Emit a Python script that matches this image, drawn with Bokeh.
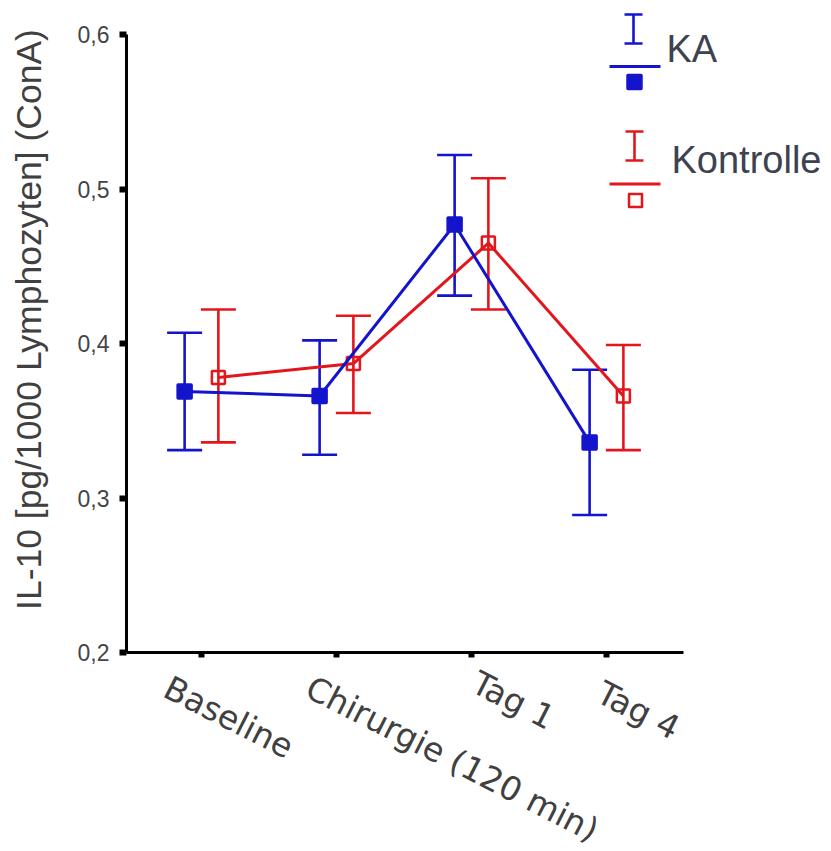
import math
from bokeh.plotting import figure
from bokeh.models import (ColumnDataSource, Whisker, TeeHead, FixedTicker,
                          CustomJSTickFormatter, Range1d, Label)
from bokeh.embed import file_html
from bokeh.resources import INLINE

# ---------------- data ----------------
categories = ["Baseline", "Chirurgie (120 min)", "Tag 1", "Tag 4"]
y_ticks = [0.2, 0.3, 0.4, 0.5, 0.6]

ka_mean = [0.369, 0.366, 0.477, 0.336]
ka_upper = [0.407, 0.402, 0.522, 0.383]
ka_lower = [0.331, 0.328, 0.431, 0.289]

kon_mean = [0.378, 0.387, 0.465, 0.366]
kon_upper = [0.422, 0.418, 0.507, 0.399]
kon_lower = [0.336, 0.355, 0.422, 0.331]

series_names = ["KA", "Kontrolle"]
y_label = "IL-10 [pg/1000 Lymphozyten] (ConA)"

# ---------------- style / layout (page pixels) ----------------
BLUE = "#1414cc"
RED = "#e3161c"
TEXT = "#404040"
LEGEND_TEXT = "#3d4250"
FONT = "Liberation Sans"
CAT_FONT = "DejaVu Sans"

FRAME_W = 829
FRAME_H = 849
AXIS_LEFT_PX = 126        # y axis line
AXIS_RIGHT_PX = 683       # end of x axis line
AXIS_TOP_PX = 34          # y max
AXIS_BOTTOM_PX = 652      # y min / x axis line
FIRST_TICK_PX = 201       # first category
PX_PER_CAT = 135
DODGE = 0.125
Y_MIN, Y_MAX = y_ticks[0], y_ticks[-1]

# category label placement: horizontal nudge (px) from tick, anchor y (px)
X_LABEL_NUDGE = [-35, -28, 3, -7]
X_LABEL_Y = [685, 685, 680, 690]
X_LABEL_ANGLE = -math.radians(27)
Y_LABEL_X, Y_LABEL_CY = 28, 319

px_per_y = (AXIS_BOTTOM_PX - AXIS_TOP_PX) / (Y_MAX - Y_MIN)


def page_x(px):
    return (px - FIRST_TICK_PX) / PX_PER_CAT


def page_y(py):
    return Y_MIN + (AXIS_BOTTOM_PX - py) / px_per_y


p = figure(frame_width=FRAME_W, frame_height=FRAME_H,
           x_range=Range1d(page_x(0), page_x(FRAME_W)),
           y_range=Range1d(page_y(FRAME_H), page_y(0)),
           output_backend="svg", toolbar_location=None,
           min_border_left=0, min_border_bottom=0,
           min_border_top=0, min_border_right=0)
p.xgrid.visible = False
p.ygrid.visible = False
p.outline_line_color = None
p.background_fill_color = "white"
p.border_fill_color = "white"

# x axis (category names drawn as rotated labels below it)
xa = p.xaxis[0]
xa.fixed_location = Y_MIN
xa.ticker = FixedTicker(ticks=list(range(len(categories))))
xa.formatter = CustomJSTickFormatter(code="return ''")
xa.bounds = (page_x(AXIS_LEFT_PX), page_x(AXIS_RIGHT_PX))
xa.axis_line_width = 3
xa.axis_line_color = "black"
xa.major_tick_line_width = 6
xa.major_tick_line_color = "black"
xa.major_tick_out = 5
xa.major_tick_in = 0
xa.minor_tick_line_color = None
xa.major_label_standoff = 0

for i, (cat, nudge, ly) in enumerate(zip(categories, X_LABEL_NUDGE, X_LABEL_Y)):
    p.add_layout(Label(x=i + nudge / PX_PER_CAT, y=page_y(ly), text=cat,
                       angle=X_LABEL_ANGLE, text_font=CAT_FONT,
                       text_font_size="33px", text_color=TEXT,
                       text_align="left", text_baseline="alphabetic"))

# y axis
ya = p.yaxis[0]
ya.fixed_location = page_x(AXIS_LEFT_PX)
ya.ticker = FixedTicker(ticks=y_ticks)
ya.formatter = CustomJSTickFormatter(code="return tick.toFixed(1).replace('.', ',')")
ya.bounds = (Y_MIN, Y_MAX)
ya.axis_line_width = 3
ya.axis_line_color = "black"
ya.major_tick_line_width = 6
ya.major_tick_line_color = "black"
ya.major_tick_out = 7
ya.major_tick_in = 0
ya.minor_tick_line_color = None
ya.major_label_standoff = 10
ya.major_label_text_font = FONT
ya.major_label_text_font_size = "23px"
ya.major_label_text_color = "#454545"

p.add_layout(Label(x=page_x(Y_LABEL_X), y=page_y(Y_LABEL_CY), text=y_label,
                   angle=math.pi / 2, text_font=FONT, text_font_size="35.5px",
                   text_color=TEXT, text_align="center",
                   text_baseline="alphabetic"))

# ---------------- series ----------------
idx = list(range(len(categories)))
src_kon = ColumnDataSource(dict(x=[i + DODGE for i in idx], mean=kon_mean,
                                upper=kon_upper, lower=kon_lower))
src_ka = ColumnDataSource(dict(x=[i - DODGE for i in idx], mean=ka_mean,
                               upper=ka_upper, lower=ka_lower))


def add_whisker(src, color, cap, lw=2.6):
    w = Whisker(source=src, base="x", upper="upper", lower="lower",
                dimension="height", line_color=color, line_width=lw,
                upper_head=TeeHead(size=cap, line_color=color, line_width=lw),
                lower_head=TeeHead(size=cap, line_color=color, line_width=lw))
    p.add_layout(w)


# Kontrolle (red) first, KA (blue) on top
add_whisker(src_kon, RED, 35)
p.line("x", "mean", source=src_kon, line_color=RED, line_width=3)
p.scatter("x", "mean", source=src_kon, marker="square", size=13,
          fill_color=None, line_color=RED, line_width=2.5)

add_whisker(src_ka, BLUE, 35)
p.line("x", "mean", source=src_ka, line_color=BLUE, line_width=3)
p.scatter("x", "mean", source=src_ka, marker="square", size=13,
          fill_color=BLUE, line_color=BLUE, line_width=3.5, line_join="round")

# ---------------- legend (custom, positions in page px) ----------------
legend_layout = [
    dict(wx=633, wt=14, wb=43, ly=66, my=81.5, tx=666, ty=48),
    dict(wx=634, wt=131, wb=160, ly=183.5, my=200, tx=671, ty=159.5),
]
LEG_LINE_X0, LEG_LINE_X1 = 609, 660
legend_styles = [
    dict(color=BLUE, fill=BLUE, size=13, lw=3.5),
    dict(color=RED, fill=None, size=13, lw=2.5),
]

for name, lay, sty in zip(series_names, legend_layout, legend_styles):
    wsrc = ColumnDataSource(dict(x=[page_x(lay["wx"])], upper=[page_y(lay["wt"])],
                                 lower=[page_y(lay["wb"])]))
    add_whisker(wsrc, sty["color"], 18)
    p.line([page_x(LEG_LINE_X0), page_x(LEG_LINE_X1)],
           [page_y(lay["ly"]), page_y(lay["ly"])],
           line_color=sty["color"], line_width=3)
    p.scatter([page_x(lay["wx"] + 1)], [page_y(lay["my"])], marker="square",
              size=sty["size"], fill_color=sty["fill"], line_color=sty["color"],
              line_width=sty["lw"], line_join="round")
    p.add_layout(Label(x=page_x(lay["tx"]), y=page_y(lay["ty"]), text=name,
                       text_font=FONT, text_font_size="38px",
                       text_color=LEGEND_TEXT, text_baseline="alphabetic",
                       text_align="left"))

open("out.html", "w").write(file_html(p, INLINE))
